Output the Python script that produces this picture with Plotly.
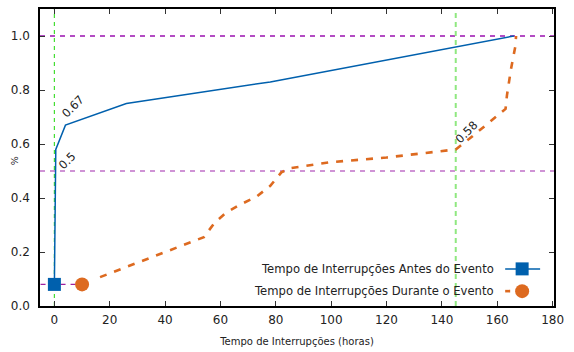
import plotly.graph_objects as go

# Data
antes_x = [0, 0.2, 0.5, 4, 26, 78, 166]
antes_y = [0.08, 0.40, 0.58, 0.67, 0.75, 0.83, 1.0]

durante_x = [16.5, 54, 58, 62, 67, 73, 78, 82, 85, 100, 120, 131, 145, 150, 157, 163, 163.5, 165, 166.5, 166.8]
durante_y = [0.107, 0.255, 0.31, 0.345, 0.375, 0.405, 0.445, 0.495, 0.51, 0.533, 0.55, 0.563, 0.58, 0.62, 0.68, 0.73, 0.78, 0.88, 0.96, 1.0]

marker_antes = (0, 0.08)
marker_durante = (10, 0.08)

hlines = [1.0, 0.5]
vlines = [0, 145]
base_line_y = 0.08

labels = [("0.67", 4, 0.67, -9, 2), ("0.5", 0.5, 0.5, -3, -4), ("0.58", 145, 0.58, -6, 0)]

legend_names = ["Tempo de Interrupções Antes do Evento", "Tempo de Interrupções Durante o Evento"]

BLUE = "#0060ad"
ORANGE = "#dd6a20"
FONT = "DejaVu Sans"

fig = go.Figure()

# reference lines
fig.add_shape(type="line", x0=0, x1=1, xref="x domain", y0=hlines[0], y1=hlines[0], yref="y",
              line=dict(color="#9a10b0", width=1.3, dash="5px,5px"), layer="below")
fig.add_shape(type="line", x0=0, x1=1, xref="x domain", y0=hlines[1], y1=hlines[1], yref="y",
              line=dict(color="#c070c8", width=1.6, dash="5px,5px"), layer="below")
fig.add_shape(type="line", x0=vlines[0], x1=vlines[0], xref="x", y0=0, y1=1, yref="y domain",
              line=dict(color="#44dd33", width=1.2, dash="4px,4px"), layer="below")
fig.add_shape(type="line", x0=vlines[1], x1=vlines[1], xref="x", y0=0, y1=1, yref="y domain",
              line=dict(color="#90e880", width=2, dash="5px,4px"), layer="below")
fig.add_shape(type="line", x0=-5, x1=marker_durante[0], xref="x", y0=base_line_y, y1=base_line_y, yref="y",
              line=dict(color="#a020a0", width=1.2, dash="5px,5px"), layer="below")

fig.add_trace(go.Scatter(x=antes_x, y=antes_y, mode="lines", line=dict(color=BLUE, width=1.5),
                         showlegend=False, hoverinfo="skip"))
fig.add_trace(go.Scatter(x=durante_x, y=durante_y, mode="lines", line=dict(color=ORANGE, width=2.6, dash="7px,8px"),
                         showlegend=False, hoverinfo="skip"))
fig.add_trace(go.Scatter(x=[marker_antes[0]], y=[marker_antes[1]], mode="markers",
                         marker=dict(symbol="square", size=13, color=BLUE), showlegend=False))
fig.add_trace(go.Scatter(x=[marker_durante[0]], y=[marker_durante[1]], mode="markers",
                         marker=dict(symbol="circle", size=14, color=ORANGE), showlegend=False))

# legend samples on overlay axes
lx0, lx1, lxm = 0.905, 0.973, 0.938
ly = [0.125, 0.05]
fig.add_trace(go.Scatter(x=[lx0, lx1], y=[ly[0], ly[0]], xaxis="x2", yaxis="y2", mode="lines",
                         line=dict(color=BLUE, width=1.5), showlegend=False))
fig.add_trace(go.Scatter(x=[lxm], y=[ly[0]], xaxis="x2", yaxis="y2", mode="markers",
                         marker=dict(symbol="square", size=13, color=BLUE), showlegend=False))
fig.add_trace(go.Scatter(x=[lx0, lx1], y=[ly[1], ly[1]], xaxis="x2", yaxis="y2", mode="lines",
                         line=dict(color=ORANGE, width=2.6, dash="5px,13px"), showlegend=False))
fig.add_trace(go.Scatter(x=[lxm], y=[ly[1]], xaxis="x2", yaxis="y2", mode="markers",
                         marker=dict(symbol="circle", size=14, color=ORANGE), showlegend=False))
for name, yy in zip(legend_names, ly):
    fig.add_annotation(x=0.887, y=yy, xref="x2", yref="y2", text=name, showarrow=False,
                       xanchor="right", yanchor="middle", font=dict(family=FONT, size=11.6, color="#222"))

for txt, x, y, dx, dy in labels:
    fig.add_annotation(x=x, y=y, text=txt, showarrow=False, textangle=-45, xanchor="left", yanchor="bottom",
                       xshift=dx, yshift=dy, font=dict(family=FONT, size=11.5, color="#222"))

# y axis title as annotation
fig.add_annotation(x=-0.049, y=0.49, xref="paper", yref="paper", text="%", showarrow=False,
                   textangle=-90, xanchor="center", yanchor="middle",
                   font=dict(family=FONT, size=9.5, color="#222"))

axis_common = dict(showline=True, linecolor="black", linewidth=1.5, mirror="ticks", ticks="inside",
                   ticklen=5, tickcolor="#333", showgrid=False, zeroline=False, automargin=False,
                   tickfont=dict(family=FONT, size=12, color="#222"))

fig.update_layout(
    width=574, height=352,
    margin=dict(l=40, r=20, t=9, b=46),
    plot_bgcolor="white", paper_bgcolor="white",
    xaxis=dict(range=[-5.2, 180.5], tickvals=list(range(0, 181, 20)), ticklabelstandoff=2,
               title=dict(text="Tempo de Interrupções (horas)", font=dict(family=FONT, size=10, color="#222"),
                          standoff=12),
               **axis_common),
    yaxis=dict(range=[0, 1.1], tickvals=[0, 0.2, 0.4, 0.6, 0.8, 1.0], tickformat=".1f", ticklabelstandoff=6,
               **axis_common),
    xaxis2=dict(overlaying="x", range=[0, 1], visible=False, fixedrange=True),
    yaxis2=dict(overlaying="y", range=[0, 1], visible=False, fixedrange=True),
    showlegend=False,
)

fig.write_html("out.html")
